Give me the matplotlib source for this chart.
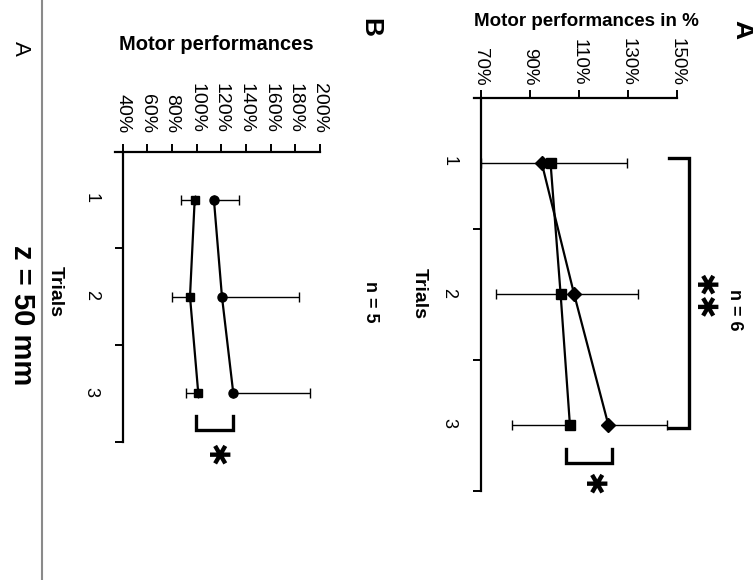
import matplotlib
matplotlib.use("Agg")
import matplotlib.pyplot as plt

plt.rcParams['font.family'] = ['Liberation Sans', 'DejaVu Sans']

# data (figure is shown rotated: values run left->right, trials top->bottom)
trials = [1, 2, 3]

a_ticks = [70, 90, 110, 130, 150]
a_square = [98.4, 102.5, 106.3]
a_square_err = [28.4, 26.4, 23.8]      # drawn towards lower values only
a_diamond = [94.8, 108.0, 122.0]
a_diamond_err = [34.7, 26.0, 23.8]     # drawn towards higher values only

b_ticks = [40, 60, 80, 100, 120, 140, 160, 180, 200]
b_square = [98.4, 94.6, 101.3]
b_square_err = [10.8, 14.3, 10.0]
b_circle = [114.0, 120.5, 129.7]
b_circle_err = [20.6, 62.5, 62.2]

W, H = 753, 580
fig = plt.figure(figsize=(W / 100, H / 100), dpi=100)


def fx(x):
    return x / W


def fy(y):
    return 1 - y / H


def style(ax, x0, ticks, xpad, ypad, fs):
    ax.spines['bottom'].set_visible(False)
    ax.spines['right'].set_visible(False)
    ax.spines['left'].set_position(('data', x0))
    for s in ['top', 'left']:
        ax.spines[s].set_linewidth(1.6)
    ax.xaxis.tick_top()
    ax.set_xticks(ticks)
    ax.set_xticklabels([f"{t}%" for t in ticks])
    ax.tick_params(axis='x', direction='out', length=6, width=1.4,
                   labelrotation=-90, labelsize=fs, pad=xpad)
    ax.set_yticks(trials)
    ax.set_yticklabels([str(t) for t in trials])
    ax.set_yticks([1.5, 2.5, 3.5], minor=True)
    ax.tick_params(axis='y', which='major', length=0, labelrotation=-90,
                   labelsize=13, pad=ypad)
    ax.tick_params(axis='y', which='minor', direction='out', length=6, width=1.4)


def bracket(ax, xs, ys):
    ax.plot(xs, ys, color='black', lw=2.4, clip_on=False, solid_joinstyle='miter')


star = dict(rotation=-90, ha='center', va='center', fontsize=20,
            family='DejaVu Sans', clip_on=False)

# ---------- panel A ----------
axA = fig.add_axes([fx(474.1), fy(490.5), (677 - 474.1) / W, 393 / H])
axA.set_xlim(67.2, 150)
axA.set_ylim(3.5, 0.5)
style(axA, 70, a_ticks, 2.5, 17, 13.5)

eb = dict(color='black', elinewidth=1.0, capsize=3.6, capthick=1.0, ls='none')
axA.errorbar(a_square, trials, xerr=[a_square_err, [0, 0, 0]], **eb)
axA.errorbar(a_diamond, trials, xerr=[[0, 0, 0], a_diamond_err], **eb)
axA.plot(a_square, trials, color='black', lw=1.6, marker='s', ms=6.5)
axA.plot(a_diamond, trials, color='black', lw=1.6, marker='D', ms=7)

bracket(axA, [146.8, 155, 155, 146.8], [0.965, 0.965, 3.025, 3.025])
bracket(axA, [104.7, 104.7, 123.3, 123.3], [3.18, 3.29, 3.29, 3.18])
axA.text(160.6, 2.02, "✱✱", **star)
axA.text(115.3, 3.45, "✱", **star)

fig.text(fx(586), fy(22), "Motor performances in %", ha='center', va='center',
         fontsize=13.5, fontweight='bold')
fig.text(fx(742), fy(30), "A", rotation=-90, ha='center', va='center',
         fontsize=19, fontweight='bold')
fig.text(fx(735), fy(310), "n = 6", rotation=-90, ha='center', va='center',
         fontsize=13, fontweight='bold')
fig.text(fx(419), fy(293), "Trials", rotation=-90, ha='center', va='center',
         fontsize=14, fontweight='bold')

# ---------- panel B ----------
axB = fig.add_axes([fx(115), fy(441.5), 205 / W, 290 / H])
axB.set_xlim(33.8, 200)
axB.set_ylim(3.5, 0.5)
style(axB, 40, b_ticks, 7, 16.5, 14)

axB.errorbar(b_square, trials, xerr=[b_square_err, [0, 0, 0]], **eb)
axB.errorbar(b_circle, trials, xerr=[[0, 0, 0], b_circle_err], **eb)
axB.plot(b_square, trials, color='black', lw=1.6, marker='s', ms=6)
axB.plot(b_circle, trials, color='black', lw=1.6, marker='o', ms=6.5)

bracket(axB, [99.6, 99.6, 129.8, 129.8], [3.24, 3.38, 3.38, 3.24])
axB.text(115, 3.64, "✱", **star)

fig.text(fx(216), fy(44), "Motor performances", ha='center', va='center',
         fontsize=14.5, fontweight='bold')
fig.text(fx(370), fy(28), "B", rotation=-90, ha='center', va='center',
         fontsize=19, fontweight='bold')
fig.text(fx(370), fy(302), "n = 5", rotation=-90, ha='center', va='center',
         fontsize=13, fontweight='bold')
fig.text(fx(55), fy(292), "Trials", rotation=-90, ha='center', va='center',
         fontsize=14, fontweight='bold')

# page furniture
fig.add_artist(plt.Line2D([fx(42), fx(42)], [0, 1], color='#8a8a8a', lw=1.5))
fig.text(fx(22), fy(315), "z = 50 mm", rotation=-90, ha='center', va='center',
         fontsize=21, fontweight='bold')
fig.text(fx(20), fy(48), "A", rotation=-90, ha='center', va='center', fontsize=16)

fig.savefig("out.png", dpi=100)
